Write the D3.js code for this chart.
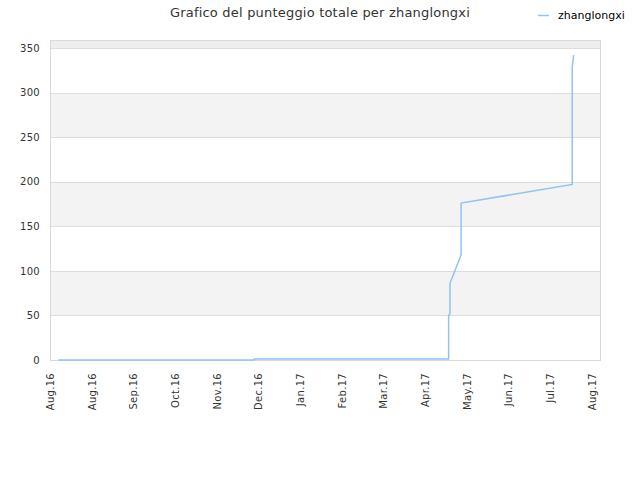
<!DOCTYPE html>
<html>
<head>
<meta charset="utf-8">
<script src="https://cdn.jsdelivr.net/npm/d3@7"></script>
<style>
  body { margin: 0; background: #fff; }
  text { font-family: "DejaVu Sans", sans-serif; }
</style>
</head>
<body>
<script>
// Data
const dates = ["2016-08-07", "2016-12-26", "2016-12-26", "2017-05-15", "2017-05-15",
               "2017-05-16", "2017-05-16", "2017-05-24", "2017-05-24", "2017-08-12",
               "2017-08-12", "2017-08-13"];
const scores = [0, 0, 1, 1, 50, 52, 86, 118, 176, 197, 329, 342];

const tickDates = ["2016-08-01", "2016-08-31", "2016-09-30", "2016-10-30", "2016-11-29",
                   "2016-12-29", "2017-01-28", "2017-02-27", "2017-03-29", "2017-04-28",
                   "2017-05-28", "2017-06-27", "2017-07-27", "2017-08-26"];
const tickLabels = ["Aug.16", "Aug.16", "Sep.16", "Oct.16", "Nov.16", "Dec.16", "Jan.17",
                    "Feb.17", "Mar.17", "Apr.17", "May.17", "Jun.17", "Jul.17", "Aug.17"];
const yTicks = [0, 50, 100, 150, 200, 250, 300, 350];
const playerName = "zhanglongxi";

const parse = d3.timeParse("%Y-%m-%d");
const data = dates.map((d, i) => ({ date: parse(d), value: scores[i] }));
const ticks = tickDates.map(parse);

const width = 640, height = 480;
const margin = { top: 40, right: 40, bottom: 120, left: 50 };

const x = d3.scaleTime()
    .domain([parse("2016-08-01"), parse("2017-09-01")])
    .range([margin.left, width - margin.right]);

const y = d3.scaleLinear()
    .domain([0, 359])
    .range([height - margin.bottom, margin.top]);

const svg = d3.select("body").append("svg")
    .attr("width", width)
    .attr("height", height);

// alternating bands
const bandEdges = yTicks.concat([y.domain()[1]]);
svg.append("g")
  .selectAll("rect")
  .data(d3.pairs(bandEdges))
  .join("rect")
    .attr("x", margin.left)
    .attr("width", width - margin.right - margin.left)
    .attr("y", d => y(d[1]))
    .attr("height", d => y(d[0]) - y(d[1]))
    .attr("fill", (d, i) => i === 7 ? "#eeeeee" : (i % 2 ? "#f3f3f3" : "#ffffff"));

// grid lines
svg.append("g")
  .selectAll("line")
  .data(yTicks.slice(1))
  .join("line")
    .attr("x1", margin.left)
    .attr("x2", width - margin.right)
    .attr("y1", d => Math.round(y(d)) + 0.5)
    .attr("y2", d => Math.round(y(d)) + 0.5)
    .attr("stroke", "#dddddd");

// plot frame
svg.append("rect")
    .attr("x", margin.left + 0.5)
    .attr("y", margin.top + 0.5)
    .attr("width", width - margin.right - margin.left)
    .attr("height", height - margin.bottom - margin.top)
    .attr("fill", "none")
    .attr("stroke", "#d9d9d9");

// y axis
const yAxis = svg.append("g")
    .attr("transform", `translate(${margin.left},0)`)
    .call(d3.axisLeft(y).tickValues(yTicks).tickSize(0).tickPadding(10));
yAxis.select(".domain").remove();
yAxis.selectAll("text")
    .attr("font-family", "DejaVu Sans")
    .attr("font-size", 10)
    .attr("letter-spacing", 0.3)
    .attr("fill", "#333");

// x axis
const xAxis = svg.append("g")
    .attr("transform", `translate(0,${height - margin.bottom})`)
    .call(d3.axisBottom(x).tickValues(ticks).tickSize(0)
        .tickFormat((d, i) => tickLabels[i]));
xAxis.select(".domain").remove();
xAxis.selectAll("text")
    .attr("font-family", "DejaVu Sans")
    .attr("font-size", 10)
    .attr("letter-spacing", 0.3)
    .attr("fill", "#333")
    .attr("text-anchor", "end")
    .attr("transform", "translate(0,13) rotate(-90)")
    .attr("x", 0)
    .attr("y", 0)
    .attr("dy", "0.35em");

// line
const line = d3.line()
    .x(d => x(d.date))
    .y(d => y(d.value));

svg.append("path")
    .datum(data)
    .attr("fill", "none")
    .attr("stroke", "#90c2f4")
    .attr("stroke-width", 1.5)
    .attr("d", line);

// title
svg.append("text")
    .attr("x", 320)
    .attr("y", 17)
    .attr("text-anchor", "middle")
    .attr("font-size", 13)
    .attr("letter-spacing", 0.2)
    .attr("fill", "#333")
    .text("Grafico del punteggio totale per " + playerName);

// legend
svg.append("line")
    .attr("x1", 538).attr("x2", 549)
    .attr("y1", 15.5).attr("y2", 15.5)
    .attr("stroke", "#90c2f4")
    .attr("stroke-width", 1.5);
svg.append("text")
    .attr("x", 558)
    .attr("y", 15)
    .attr("dy", "0.35em")
    .attr("font-size", 11)
    .attr("fill", "#000")
    .text(playerName);
</script>
</body>
</html>
